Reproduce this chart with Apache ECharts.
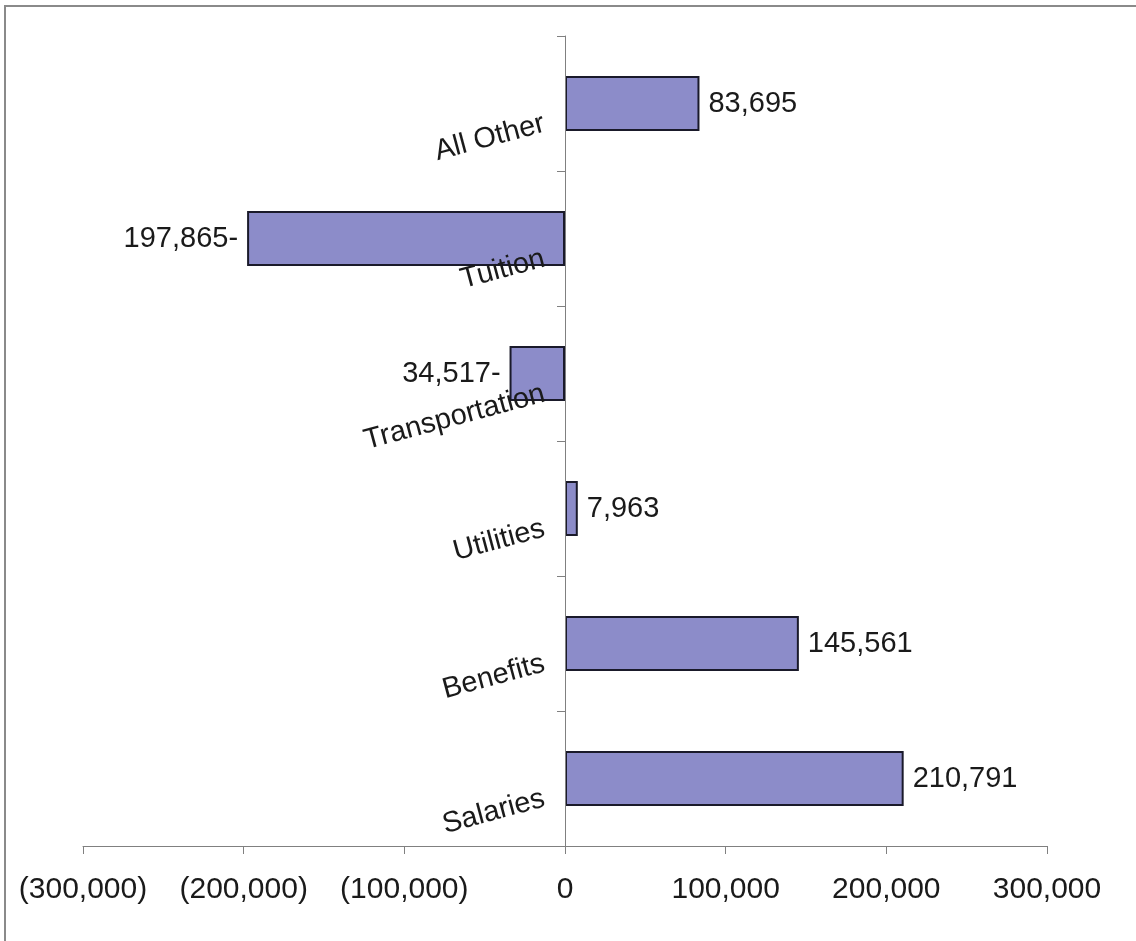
<!DOCTYPE html>
<html>
<head>
<meta charset="utf-8">
<script src="https://cdn.jsdelivr.net/npm/echarts@6/dist/echarts.min.js"></script>
<style>
html,body{margin:0;padding:0;background:#fff;}
#chart{width:1136px;height:941px;}
</style>
</head>
<body>
<div id="chart"></div>
<script>
var categories = ['Salaries', 'Benefits', 'Utilities', 'Transportation', 'Tuition', 'All Other'];
var values = [210791, 145561, 7963, -34517, -197865, 83695];
var xTicks = [-300000, -200000, -100000, 0, 100000, 200000, 300000];

function fmt(n) {
  return Math.abs(n).toString().replace(/\B(?=(\d{3})+(?!\d))/g, ',');
}

var chart = echarts.init(document.getElementById('chart'), null, {renderer: 'canvas'});
var font = '"Liberation Sans", Arial, sans-serif';
var gridLeft = 83, gridRight = 89;
var plotW = 1136 - gridLeft - gridRight;
var xMin = xTicks[0], xMax = xTicks[xTicks.length - 1];
var zeroOffset = plotW * (0 - xMin) / (xMax - xMin);

chart.setOption({
  animation: false,
  backgroundColor: '#ffffff',
  graphic: [{
    type: 'rect',
    shape: {x: 5, y: 6, width: 1300, height: 1100},
    style: {fill: 'none', stroke: '#8a8a8a', lineWidth: 2},
    silent: true
  }],
  grid: {left: gridLeft, right: gridRight, top: 36, bottom: 95, containLabel: false, outerBoundsMode: 'none'},
  xAxis: {
    type: 'value',
    min: xMin,
    max: xMax,
    interval: 100000,
    splitLine: {show: false},
    axisLine: {show: true, lineStyle: {color: '#808080', width: 1}},
    axisTick: {show: true, length: 8, lineStyle: {color: '#808080'}},
    axisLabel: {
      margin: 29,
      fontFamily: font,
      fontSize: 30,
      color: '#1a1a1a',
      formatter: function (v) {
        if (v < 0) return '(' + fmt(v) + ')';
        return fmt(v);
      }
    }
  },
  yAxis: {
    type: 'category',
    data: categories,
    offset: -zeroOffset,
    z: 5,
    axisLine: {show: true, onZero: false, lineStyle: {color: '#808080', width: 1}},
    axisTick: {show: true, length: 8, lineStyle: {color: '#808080'}},
    axisLabel: {
      rotate: 15,
      margin: 26,
      fontFamily: font,
      fontSize: 29,
      color: '#1a1a1a',
      verticalAlign: 'top',
      padding: [6, 0, 0, 0]
    }
  },
  series: [{
    type: 'bar',
    z: 2,
    data: values.map(function (v) {
      return {
        value: v,
        label: {position: v < 0 ? 'left' : 'right'}
      };
    }),
    barWidth: 55,
    itemStyle: {color: '#8c8cc9', borderColor: '#1a1a2a', borderWidth: 2},
    label: {
      show: true,
      distance: 9,
      fontFamily: font,
      fontSize: 29,
      color: '#1a1a1a',
      formatter: function (p) {
        return p.value < 0 ? fmt(p.value) + '-' : fmt(p.value);
      }
    }
  }]
});
</script>
</body>
</html>
